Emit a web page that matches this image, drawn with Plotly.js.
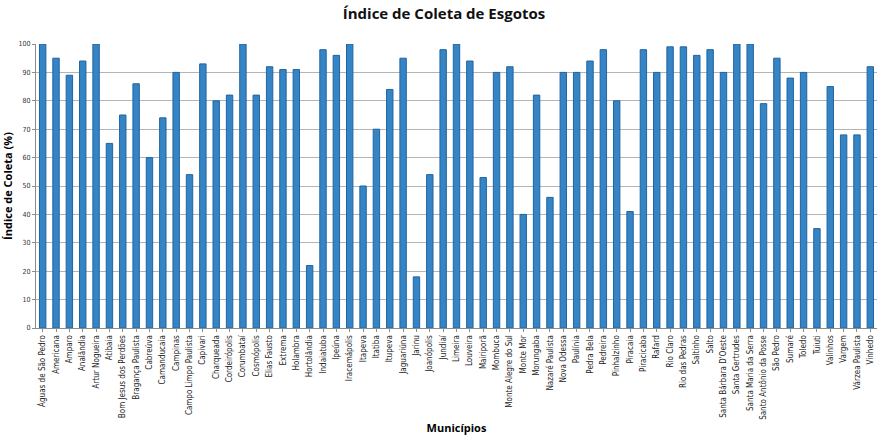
<!DOCTYPE html>
<html>
<head>
<meta charset="utf-8">
<script src="https://cdn.plot.ly/plotly-3.0.1.min.js"></script>
<style>html,body{margin:0;padding:0;background:#fff;}#chart{width:888px;height:435px;}</style>
</head>
<body>
<div id="chart"></div>
<script>
const municipios = [
  "Águas de São Pedro","Americana","Amparo","Analândia","Artur Nogueira","Atibaia",
  "Bom Jesus dos Perdões","Bragança Paulista","Cabreúva","Camanducaia","Campinas",
  "Campo Limpo Paulista","Capivari","Charqueada","Cordeirópolis","Corumbataí",
  "Cosmópolis","Elias Fausto","Extrema","Holambra","Hortolândia","Indaiatuba",
  "Ipeúna","Iracemápolis","Itapeva","Itatiba","Itupeva","Jaguariúna","Jarinu",
  "Joanópolis","Jundiaí","Limeira","Louveira","Mairiporã","Mombuca",
  "Monte Alegre do Sul","Monte Mor","Morungaba","Nazaré Paulista","Nova Odessa",
  "Paulínia","Pedra Bela","Pedreira","Pinhalzinho","Piracaia","Piracicaba","Rafard",
  "Rio Claro","Rio das Pedras","Saltinho","Salto","Santa Bárbara D'Oeste",
  "Santa Gertrudes","Santa Maria da Serra","Santo Antônio da Posse","São Pedro",
  "Sumaré","Toledo","Tuiuti","Valinhos","Vargem","Várzea Paulista","Vinhedo"
];
const indiceColeta = [
  100,95,89,94,100,65,
  75,86,60,74,90,
  54,93,80,82,100,
  82,92,91,91,22,98,
  96,100,50,70,84,95,18,
  54,98,100,94,53,90,
  92,40,82,46,90,
  90,94,98,80,41,98,90,
  99,99,96,98,90,
  100,100,79,95,
  88,90,35,85,68,68,92
];
const yTicks = [0,10,20,30,40,50,60,70,80,90,100];

const trace = {
  type: 'bar',
  x: municipios,
  y: indiceColeta,
  marker: {color: '#3584C6', line: {color: '#22649E', width: 1}},
  hoverinfo: 'x+y'
};

const layout = {
  width: 888, height: 435,
  paper_bgcolor: '#fff', plot_bgcolor: '#fff',
  margin: {l: 36, r: 11, t: 44, b: 107, pad: 0},
  bargap: 0.52,
  showlegend: false,
  title: {text: 'Índice de Coleta de Esgotos', x: 0.5, xanchor: 'center', y: 0.98, yanchor: 'top',
          font: {family: 'Open Sans, sans-serif', size: 15, color: '#111', weight: 'bold'}},
  xaxis: {
    type: 'category',
    tickangle: -90,
    tickfont: {family: 'DejaVu Sans Condensed, DejaVu Sans, sans-serif', size: 8, color: '#222'},
    showline: true, linecolor: '#8c8c8c', linewidth: 1,
    ticks: 'outside', ticklen: 3, tickcolor: '#8c8c8c',
    showgrid: false,
    title: {text: 'Municípios', standoff: 6,
            font: {family: 'Open Sans, sans-serif', size: 11, color: '#000', weight: 'bold'}}
  },
  yaxis: {
    range: [0, 100],
    tickvals: yTicks,
    tickfont: {family: 'DejaVu Sans Condensed, DejaVu Sans, sans-serif', size: 7, color: '#333'},
    showline: true, linecolor: '#8c8c8c', linewidth: 1,
    ticks: 'outside', ticklen: 3, tickcolor: '#8c8c8c',
    showgrid: true, gridcolor: '#b4b4b4', gridwidth: 1,
    zeroline: false,
    title: {text: 'Índice de Coleta (%)', standoff: 7,
            font: {family: 'Open Sans, sans-serif', size: 11, color: '#000', weight: 'bold'}}
  }
};

Plotly.newPlot('chart', [trace], layout, {displayModeBar: false, staticPlot: true});
</script>
</body>
</html>
